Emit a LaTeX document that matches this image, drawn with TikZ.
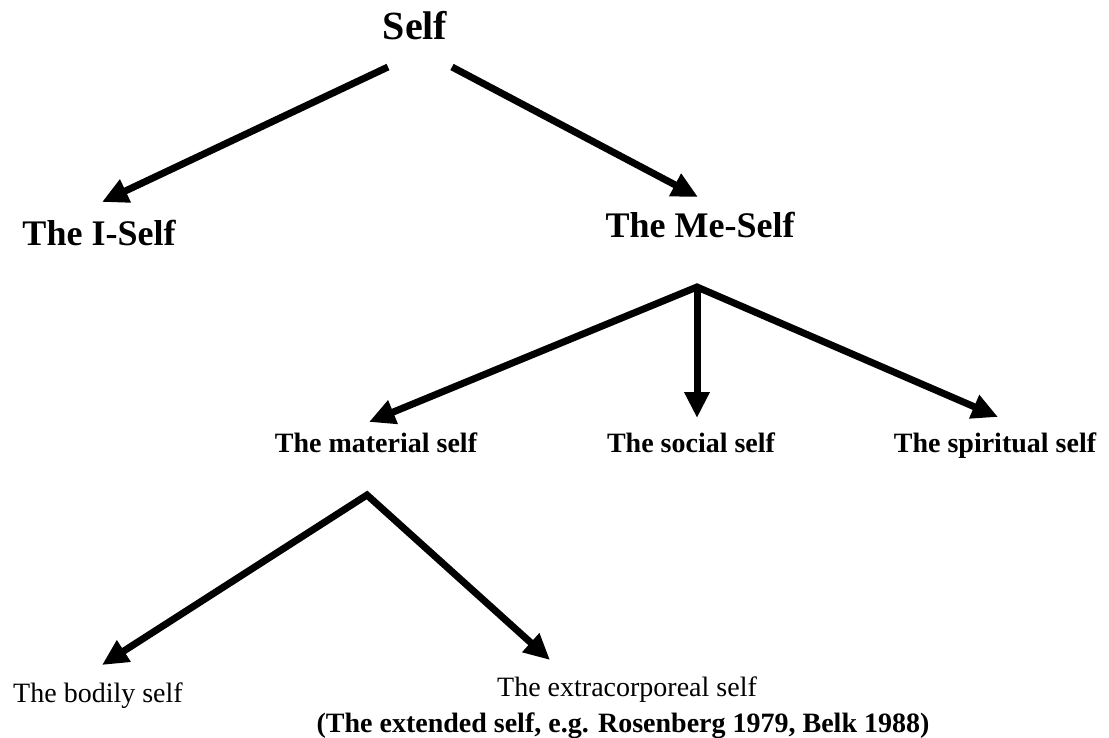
\documentclass[tikz,border=0pt]{standalone}
\usepackage{fontspec}
\setmainfont{Liberation Serif}
\usetikzlibrary{arrows.meta}

\begin{document}
\begin{tikzpicture}[x=1pt, y=-1pt,
  lbl/.style={inner sep=0pt, anchor=base},
  top/.style={lbl, font=\bfseries\fontsize{40}{44}\selectfont},
  big/.style={lbl, font=\bfseries\fontsize{36}{40}\selectfont},
  mid/.style={lbl, font=\bfseries\fontsize{28}{32}\selectfont},
  low/.style={lbl, font=\fontsize{28}{32}\selectfont},
  arr/.style={line width=7pt, -{Triangle[length=26pt, width=24pt]}},
  biarr/.style={line width=7pt, {Triangle[length=26pt, width=24pt]}-{Triangle[length=26pt, width=24pt]}, line join=miter}
]
\useasboundingbox (0,0) rectangle (1109,738);

% labels
\node[top] (self) at (415,40) {Self};
\node[big] (iself) at (99,246) {The I-Self};
\node[big] (meself) at (700,238) {The Me-Self};
\node[mid] (material) at (376,452) {The material self};
\node[mid] (social) at (691,452) {The social self};
\node[mid] (spiritual) at (995,452) {The spiritual self};
\node[low] (bodily) at (98,702) {The bodily self};
\node[low] (extra) at (627,696) {The extracorporeal self};
\node[mid] (extnote) at (623,732) {(The extended self, e.g. Rosenberg 1979, Belk 1988)};

% connector end points
\coordinate (selfL) at (388,67);
\coordinate (selfR) at (452,67);
\coordinate (tipI) at (102,202);
\coordinate (tipMe) at (698,197);
\coordinate (jMe) at (697,287);
\coordinate (tipMat) at (369,422);
\coordinate (tipSoc) at (697,418);
\coordinate (tipSpi) at (998,417);
\coordinate (jMat) at (367,495);
\coordinate (tipBod) at (102,665);
\coordinate (tipExt) at (550,660);

% connectors
\draw[arr] (selfL) -- (tipI);
\draw[arr] (selfR) -- (tipMe);
\draw[biarr] (tipMat) -- (jMe) -- (tipSpi);
\draw[arr] (jMe) -- (tipSoc);
\draw[biarr] (tipBod) -- (jMat) -- (tipExt);
\end{tikzpicture}
\end{document}
